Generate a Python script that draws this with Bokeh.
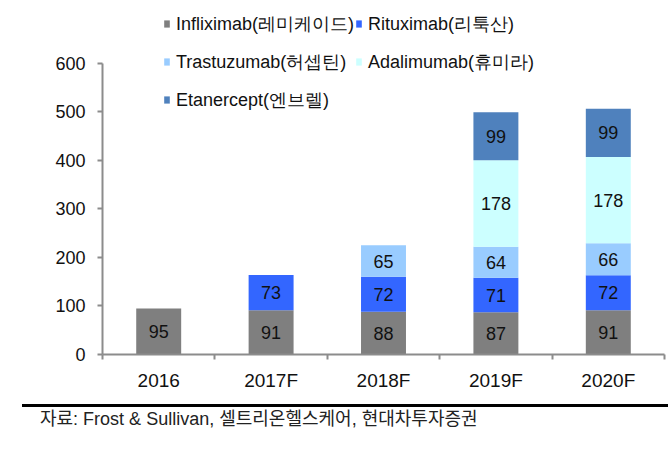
from bokeh.plotting import figure
from bokeh.models import (ColumnDataSource, Legend, LegendItem, FixedTicker, Range1d, Div)
from bokeh.layouts import column
from bokeh.core.properties import value
from bokeh.embed import file_html
from bokeh.resources import INLINE

years = ["2016", "2017F", "2018F", "2019F", "2020F"]
infliximab = [95, 91, 88, 87, 91]
rituximab = [0, 73, 72, 71, 72]
trastuzumab = [0, 0, 65, 64, 66]
adalimumab = [0, 0, 0, 178, 178]
etanercept = [0, 0, 0, 99, 99]

series_names = ["Infliximab(레미케이드)", "Rituximab(리툭산)", "Trastuzumab(허셉틴)",
                "Adalimumab(휴미라)", "Etanercept(엔브렐)"]
series_vals = [infliximab, rituximab, trastuzumab, adalimumab, etanercept]
colors = ["#7f7f7f", "#3366ff", "#99ccff", "#ccffff", "#4f81bd"]
source_text = "자료: Frost &amp; Sullivan, 셀트리온헬스케어, 현대차투자증권"
y_ticks = [0, 100, 200, 300, 400, 500, 600]

FONT = "Liberation Sans"

xs = [i + 0.5 for i in range(len(years))]

# frame spans page y 0..354; value 600 sits at y=62.7 -> extend range above 600 for legend room
px_per_unit = (354 - 62.7) / 600
y_top = 600 + 62.7 / px_per_unit

p = figure(width=668, height=395, output_backend="svg", toolbar_location=None,
           x_range=Range1d(0, 5), y_range=Range1d(0, y_top),
           min_border_left=102, min_border_right=4, min_border_top=0, min_border_bottom=41)
p.outline_line_color = None
p.grid.visible = False
p.background_fill_color = "white"

data = {"x": xs}
keys = []
for i, vals in enumerate(series_vals):
    k = f"s{i}"
    keys.append(k)
    data[k] = vals
src = ColumnDataSource(data)
renderers = p.vbar_stack(keys, x="x", width=0.4, source=src, color=colors, line_color=None)

# value labels
lx, ly, lt = [], [], []
for j in range(len(years)):
    base = 0
    for vals in series_vals:
        v = vals[j]
        if v > 0:
            lx.append(xs[j])
            ly.append(base + v / 2)
            lt.append(str(v))
        base += v
lab_src = ColumnDataSource(dict(x=lx, y=ly, t=lt))
p.text(x="x", y="y", text="t", source=lab_src, text_align="center", text_baseline="middle",
       text_font=value(FONT), text_font_size="18px", text_color="#111111")

# axes
p.xaxis.ticker = FixedTicker(ticks=xs, minor_ticks=list(range(len(years) + 1)))
p.xaxis.major_label_overrides = {x: y for x, y in zip(xs, years)}
p.xaxis.major_tick_out = 0
p.xaxis.major_tick_in = 0
p.xaxis.minor_tick_out = 5
p.xaxis.minor_tick_in = 0
p.xaxis.minor_tick_line_color = "#8c8c8c"
p.xaxis.minor_tick_line_width = 2
p.xaxis.axis_line_color = "#8c8c8c"
p.xaxis.axis_line_width = 2
p.xaxis.major_label_standoff = 10
p.xaxis.major_label_text_font = FONT
p.xaxis.major_label_text_font_size = "19px"
p.xaxis.major_label_text_color = "#111111"

p.yaxis.ticker = FixedTicker(ticks=y_ticks)
p.yaxis.bounds = (y_ticks[0], y_ticks[-1])
p.yaxis.major_tick_out = 5
p.yaxis.major_tick_in = 0
p.yaxis.minor_tick_line_color = None
p.yaxis.major_tick_line_color = "#8c8c8c"
p.yaxis.major_tick_line_width = 2
p.yaxis.axis_line_color = "#8c8c8c"
p.yaxis.axis_line_width = 2
p.yaxis.major_label_standoff = 12
p.yaxis.major_label_text_font = FONT
p.yaxis.major_label_text_font_size = "18px"
p.yaxis.major_label_text_color = "#111111"

# legend (inside the frame, above the 600 line)
items = [LegendItem(label=n, renderers=[r]) for n, r in zip(series_names, renderers)]
legend = Legend(items=items, location=(61, 236), orientation="horizontal", ncols=2,
                glyph_width=7, glyph_height=9, label_standoff=6, spacing=1,
                label_height=37, padding=0, margin=0,
                border_line_alpha=0, background_fill_alpha=0,
                label_text_font=FONT, label_text_font_size="18px",
                label_text_color="#111111")
p.add_layout(legend, "center")

note = Div(
    text=(f'<div style="margin:9px 0 0 22px; width:646px; border-top:3px solid #000; '
          f'padding:1px 0 0 18px; box-sizing:border-box; '
          f'font-family:\'{FONT}\', \'Noto Sans CJK KR\'; '
          f'font-size:18px; line-height:22px; color:#222; white-space:nowrap;">'
          f'{source_text}</div>'),
    width=668, height=60, margin=0)

layout = column(p, note, spacing=0)
open("out.html", "w").write(file_html(layout, INLINE))
